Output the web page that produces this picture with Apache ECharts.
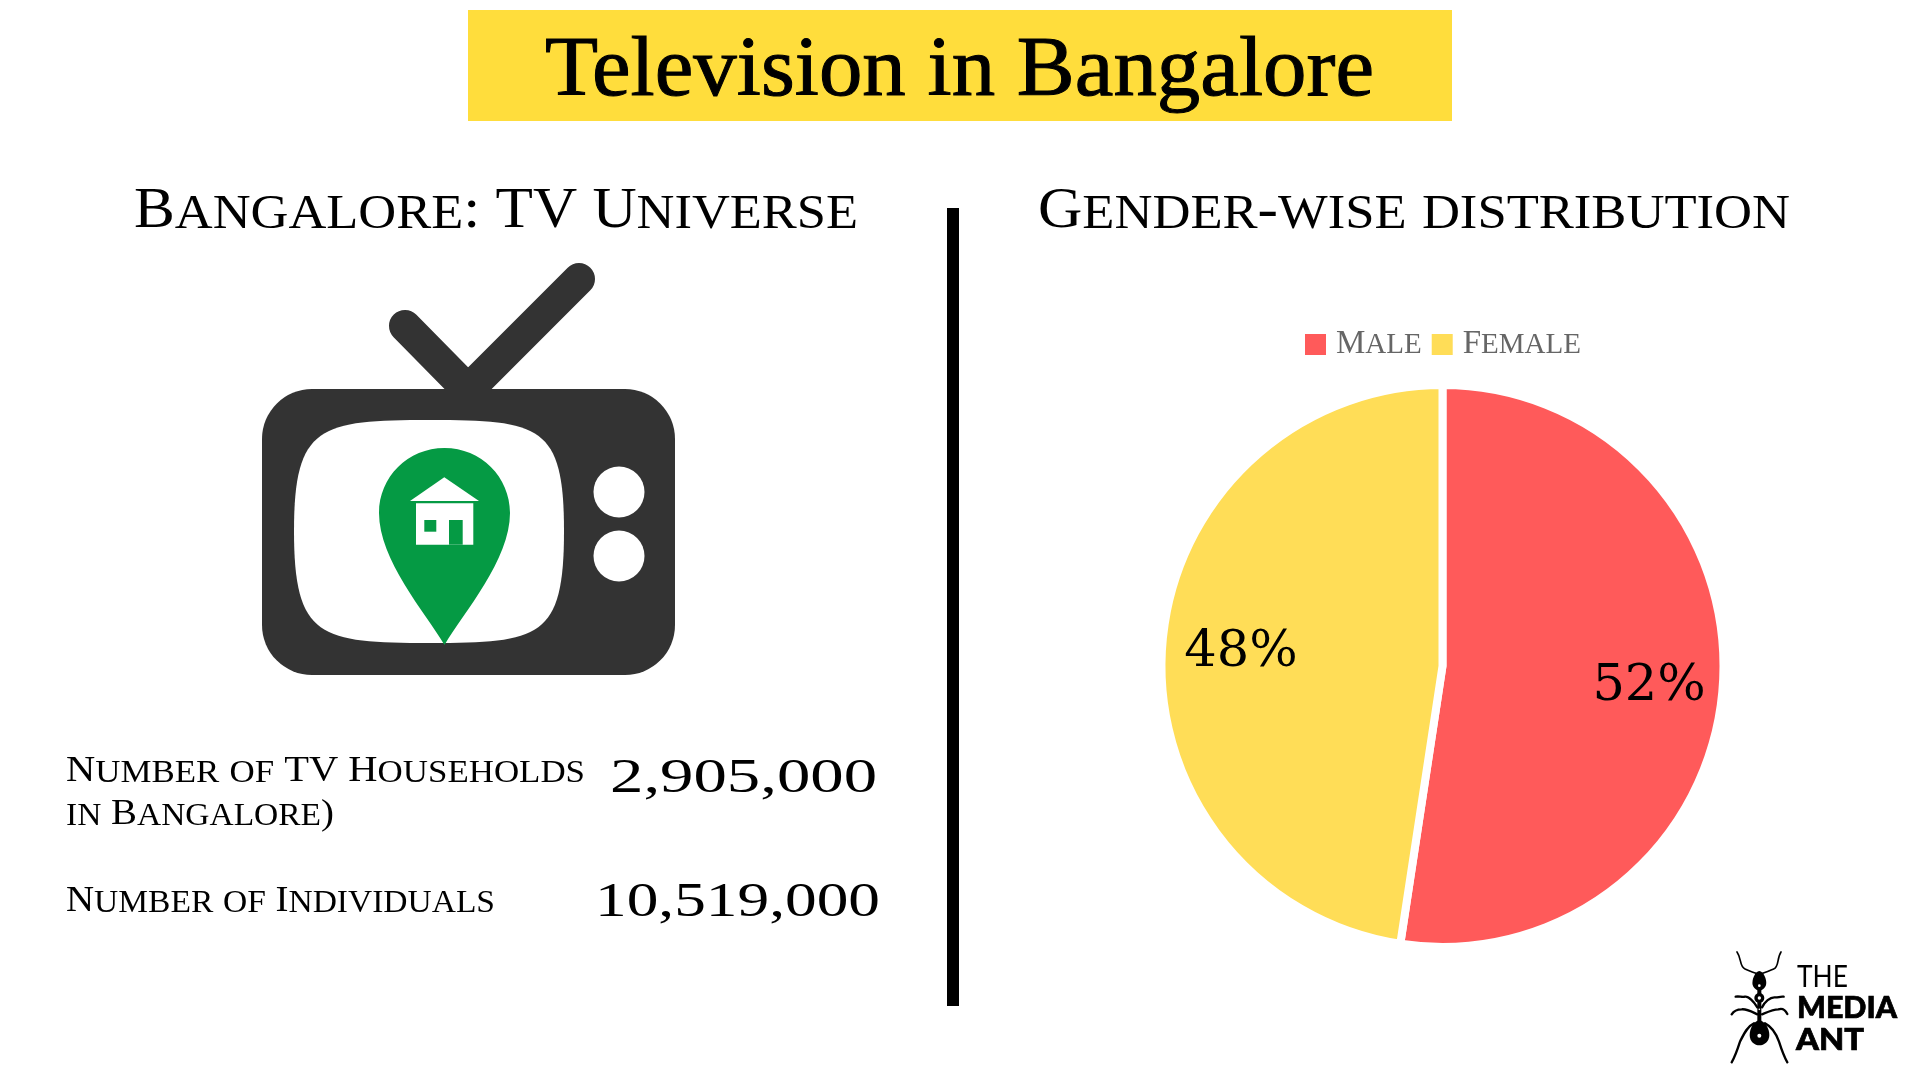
<!DOCTYPE html>
<html>
<head>
<meta charset="utf-8">
<title>Television in Bangalore</title>
<script src="https://cdn.jsdelivr.net/npm/echarts@6/dist/echarts.min.js"></script>
<style>html,body{margin:0;padding:0;background:#fff}#c{width:1920px;height:1080px}</style>
</head>
<body>
<div id="c"></div>
<script>
const mainTitle = 'Television in Bangalore';
const leftHeading = 'Bangalore: TV Universe';
const rightHeading = 'Gender-wise distribution';
const householdLabelLines = ['Number of TV Households', 'in Bangalore)'];
const individualsLabel = 'Number of Individuals';
const householdValue = '2,905,000';
const individualsValue = '10,519,000';
const genderCategories = ['Male', 'Female'];
const genderValues = [52.4, 47.6];
const genderColors = ['#FF5A5A', '#FFDD57'];
const logoWords = ['THE', 'MEDIA', 'ANT'];

const SERIF = '"Liberation Serif"';
const BASE = 0.7775;
const mctx = document.createElement('canvas').getContext('2d');
function measure(tokens) {
  let w = 0;
  tokens.forEach(t => { mctx.font = (t.weight || 'normal') + ' ' + t.size + 'px ' + t.family; w += mctx.measureText(t.text).width; });
  return w;
}
function capsTokens(str) {
  const out = [];
  for (const ch of str) {
    const lower = ch >= 'a' && ch <= 'z';
    const kind = lower ? 's' : 'b';
    const text = ch.toUpperCase();
    if (out.length && out[out.length - 1].kind === kind) out[out.length - 1].text += text;
    else out.push({ kind, text });
  }
  return out;
}
function capsRich(tokens) { return tokens.map(t => '{' + t.kind + '|' + t.text + '}').join(''); }
function capsStyles(big, small, family, fill, leftPad) {
  return {
    b: { fontSize: big, fontFamily: family, fill, color: fill, verticalAlign: 'bottom', padding: [0, 0, 0, leftPad || 0] },
    s: { fontSize: small, fontFamily: family, fill, color: fill, verticalAlign: 'bottom', padding: [0, 0, 0.1625 * (big - small), 0] }
  };
}
function capsLine(str, left, right, baseline, big, small) {
  const toks = capsTokens(str);
  const w = measure(toks.map(t => ({ text: t.text, size: t.kind === 'b' ? big : small, family: SERIF })));
  return {
    type: 'text', x: left, y: baseline - BASE * big, scaleX: (right - left) / w, scaleY: 1,
    style: { text: capsRich(toks), rich: capsStyles(big, small, SERIF, '#000'), x: 0, y: 0, align: 'left', verticalAlign: 'top' }
  };
}
function plainLine(str, left, right, baseline, size, family, weight, fill, strokeW) {
  const w = measure([{ text: str, size, family, weight }]);
  return {
    type: 'text', x: left, y: baseline - BASE * size, scaleX: (right - left) / w, scaleY: 1,
    style: { text: str, x: 0, y: 0, align: 'left', verticalAlign: 'top', fontSize: size, fontFamily: family, fontWeight: weight || 'normal', fill: fill || '#000', stroke: strokeW ? (fill || '#000') : null, lineWidth: strokeW || 0 }
  };
}
let shapeCount = 0;
function shapeType(d) {
  const name = 'svgShape' + (shapeCount++);
  echarts.graphic.registerShape(name, echarts.graphic.extendPath(d, {}));
  return name;
}
function path(d, fill) { return { type: shapeType(d), style: { fill } }; }
function rect(x, y, w, h, fill, r) { return { type: 'rect', shape: { x, y, width: w, height: h, r: r || 0 }, style: { fill } }; }
function circle(cx, cy, r, fill) { return { type: 'circle', shape: { cx, cy, r }, style: { fill } }; }
function stroke(d, w) { return { type: shapeType(d), style: { fill: 'none', stroke: '#000', lineWidth: w, lineCap: 'round' } }; }

const TV = '#333333', GREEN = '#059A44';
const tvIcon = [
  { type: 'polyline', shape: { points: [[579, 279], [468, 390], [405, 326]] }, style: { fill: 'none', stroke: TV, lineWidth: 32, lineCap: 'round', lineJoin: 'miter' } },
  rect(262, 389, 413, 286, TV, 50),
  path('M430 420C540 420 564 425 564 531C564 638 540 643 430 643C320 643 294 638 294 531C294 425 320 420 430 420Z', '#fff'),
  circle(619, 492, 25.5, '#fff'),
  circle(619, 556, 25.5, '#fff'),
  path('M444.5 645C425 612 379 560 379 513C379 477 408 448 444.5 448C481 448 510 477 510 513C510 560 464 612 444.5 645Z', GREEN),
  path('M444.3 477.3L479 501L410 501Z', '#fff'),
  rect(416, 503.3, 57.3, 41.4, '#fff'),
  rect(424.3, 520, 12, 11.7, GREEN),
  rect(449, 520, 13.7, 24.7, GREEN)
];
const antIcon = {
  type: 'group', x: 1680, y: 920, scaleX: 1 / 3, scaleY: 1 / 3,
  children: [
    stroke('M171 96C185 115 178 140 195 147C205 152 215 155 228 160', 5),
    stroke('M303 96C290 115 298 140 281 147C270 152 260 155 248 160', 5),
    stroke('M232 262C222 245 205 228 195 230C185 232 178 228 167 230', 7),
    stroke('M246 262C255 245 270 232 283 232C293 234 300 228 311 230', 7),
    stroke('M232 283C215 275 200 266 185 268C172 268 162 272 155 283', 7),
    stroke('M246 283C265 275 280 268 295 268C308 264 315 268 322 282', 7),
    stroke('M222 310C200 320 190 345 180 365C172 390 165 410 155 427', 7),
    stroke('M255 310C275 320 290 345 297 365C305 390 312 410 322 427', 7),
    rect(232, 205, 12, 105, '#000'),
    path('M238 153C250 153 262 180 258 195C255 205 245 212 238 212C231 212 221 205 218 195C214 180 226 153 238 153Z', '#000'),
    circle(238, 234, 15, '#000'),
    path('M238 300C255 305 268 325 268 345C268 365 252 376 238 376C224 376 209 365 209 345C209 325 221 305 238 300Z', '#000'),
    circle(238, 197, 4, '#fff'), circle(238, 234, 5, '#fff'), circle(238, 268, 2.5, '#fff'), circle(238, 347, 6, '#fff')
  ]
};

const chart = echarts.init(document.getElementById('c'), null, { renderer: 'canvas' });
const labelShift = [[63.5, 10], [-58.5, -2.5]];
chart.setOption({
  animation: false,
  backgroundColor: '#fff',
  legend: {
    data: genderCategories, left: 1305, top: 328, padding: 0, itemWidth: 21, itemHeight: 21, itemGap: 10, icon: 'rect',
    itemStyle: { borderWidth: 0 },
    formatter: name => capsRich(capsTokens(name)),
    textStyle: { rich: capsStyles(33, 29, SERIF, '#666666', 5) }
  },
  series: [{
    type: 'pie', center: [1442.5, 666], radius: [0, 281], startAngle: 90, clockwise: true,
    data: genderCategories.map((name, i) => ({ name, value: genderValues[i] })),
    itemStyle: { borderColor: '#fff', borderWidth: 8 },
    color: genderColors,
    label: { show: true, position: 'inside', formatter: p => Math.round(p.value) + '%', fontFamily: '"DejaVu Serif"', fontSize: 51, color: '#000' },
    labelLine: { show: false },
    labelLayout: p => ({ dx: labelShift[p.dataIndex][0], dy: labelShift[p.dataIndex][1] })
  }],
  graphic: { elements: [
    rect(468, 10, 984, 111, '#FFDD3C'),
    plainLine(mainTitle, 545, 1374, 96, 84, SERIF, 'normal', '#000', 1),
    capsLine(leftHeading, 134, 858, 228, 56, 48),
    capsLine(rightHeading, 1038, 1790, 228, 56, 48),
    rect(947, 208, 12, 798, '#000'),
    ...tvIcon,
    capsLine(householdLabelLines[0], 66, 585, 782, 36, 31),
    capsLine(householdLabelLines[1], 66, 334, 825, 36, 31),
    capsLine(individualsLabel, 66, 495, 912, 36, 31),
    plainLine(householdValue, 610, 877, 793, 48, SERIF),
    plainLine(individualsValue, 595, 880, 917, 48, SERIF),
    antIcon,
    plainLine(logoWords[0], 1797, 1848, 986, 30, 'Lato'),
    plainLine(logoWords[1], 1797, 1897, 1017, 30, 'Lato', 900, '#000', 0.7),
    plainLine(logoWords[2], 1796, 1864, 1049, 30, 'Lato', 900, '#000', 0.7)
  ] }
});
</script>
</body>
</html>
